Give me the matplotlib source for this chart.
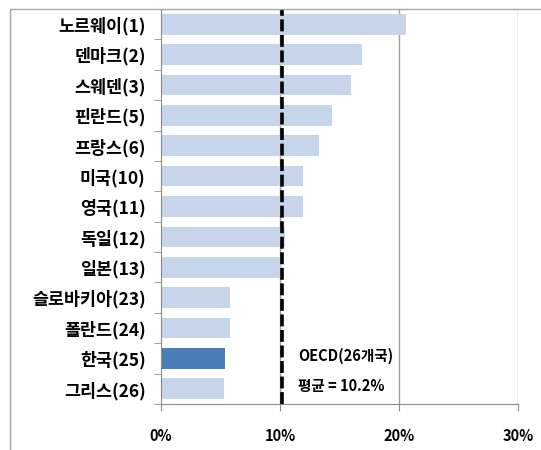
import numpy as np
import matplotlib
matplotlib.use('Agg')
import matplotlib.pyplot as plt
from matplotlib.patches import Rectangle

plt.rcParams['font.family'] = ['Noto Sans CJK KR', 'DejaVu Sans']

# 데이터 (그림에서 읽은 값, %)
countries = ['노르웨이(1)', '덴마크(2)', '스웨덴(3)', '핀란드(5)', '프랑스(6)', '미국(10)', '영국(11)',
             '독일(12)', '일본(13)', '슬로바키아(23)', '폴란드(24)', '한국(25)', '그리스(26)']
values = [20.6, 16.9, 16.0, 14.4, 13.3, 11.9, 11.9, 10.4, 10.1, 5.8, 5.8, 5.4, 5.3]
oecd_avg = 10.2
x_ticks = [0, 10, 20, 30]
x_labels = ['0%', '10%', '20%', '30%']

light = '#C6D5EA'
dark = '#4A7EBB'
colors = [dark if c.startswith('한국') else light for c in countries]

fig = plt.figure(figsize=(5.41, 4.5), dpi=100)
fig.patch.set_facecolor('white')

# 바깥 테두리 (왼쪽, 위쪽만 보임)
fig.patches.append(Rectangle((10 / 541, -0.1), 1.2, (450 - 9) / 450 + 0.1, transform=fig.transFigure,
                             fill=False, edgecolor='#A6A6A6', linewidth=1.0))

ax = fig.add_axes([161 / 541, 46 / 450, (518 - 161) / 541, (404 - 9) / 450])

y = np.arange(len(countries))
ax.barh(y, values, height=0.68, color=colors, zorder=2)
ax.set_ylim(len(countries) - 0.5, -0.5)
ax.set_xlim(0, 30)

# 세로 격자선
for t in x_ticks[1:]:
    ax.axvline(t, color='#A0A0A0', linewidth=1.0, zorder=1)

# OECD 평균 점선
ax.axvline(oecd_avg, color='black', linewidth=2.6, linestyle=(0, (3.3, 1.0)), zorder=3)
ax.text(11.5, 10.92, 'OECD(26개국)', fontsize=10.5, fontweight='bold', va='center', ha='left')
ax.text(11.5, 11.92, '평균 = 10.2%', fontsize=10.5, fontweight='bold', va='center', ha='left')

ax.set_yticks(y)
ax.set_yticklabels(countries, fontsize=12.5, fontweight='bold')
ax.set_yticks(np.arange(-0.5, len(countries), 1), minor=True)
ax.tick_params(axis='y', which='major', length=0, pad=11)
ax.tick_params(axis='y', which='minor', length=5, color='#8C8C8C', direction='out')

ax.set_xticks(x_ticks)
ax.set_xticklabels(x_labels, fontsize=10.5, fontweight='bold')
ax.tick_params(axis='x', length=5, color='#8C8C8C', direction='out', pad=12)

for s in ['top', 'right']:
    ax.spines[s].set_visible(False)
ax.spines['left'].set_color('#8C8C8C')
ax.spines['bottom'].set_color('#8C8C8C')

fig.savefig('out.png', dpi=100)
